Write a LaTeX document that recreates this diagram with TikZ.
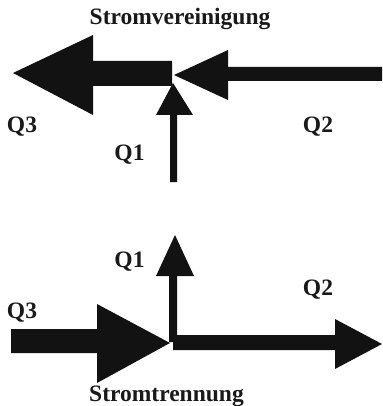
\documentclass[tikz,border=0pt]{standalone}
\usepackage{fontspec}
\setmainfont{Liberation Serif}
\begin{document}
\begin{tikzpicture}[x=1pt,y=-1pt,
  flow/.style={fill=black!93,draw=none},
  lbl/.style={font=\bfseries\fontsize{23.5}{26}\selectfont,text=black!90,inner sep=0pt,anchor=base}]
\useasboundingbox (0,0) rectangle (382,406);
% --- Stromvereinigung (merging) ---
% outgoing Q3 to the left
\fill[flow] (13,73) -- (93,35) -- (93,61) -- (172,61) -- (172,86) -- (93,86) -- (93,115) -- cycle;
% incoming Q2 from the right
\fill[flow] (174,75) -- (228,50) -- (228,67) -- (382,67) -- (382,81) -- (228,81) -- (228,100) -- cycle;
% incoming Q1 from below
\fill[flow] (173,83) -- (193,115) -- (177,115) -- (177,182) -- (170,182) -- (170,115) -- (156,115) -- cycle;
\node[lbl] (t1) at (180,25) {Stromvereinigung};
\node[lbl] (a3) at (22,133) {Q3};
\node[lbl] (a2) at (318,132) {Q2};
\node[lbl] (a1) at (129.5,160) {Q1};
% --- Stromtrennung (splitting) ---
% incoming Q3 from the left
\fill[flow] (11,329) -- (97,329) -- (97,304) -- (170,343) -- (97,383) -- (97,353) -- (11,353) -- cycle;
% outgoing Q1 upwards
\fill[flow] (175,235) -- (194,276) -- (177,276) -- (177,342) -- (169,342) -- (169,276) -- (156,276) -- cycle;
% outgoing Q2 to the right
\fill[flow] (173,335) -- (335,335) -- (335,319) -- (382,344) -- (335,369) -- (335,350) -- (173,350) -- cycle;
\node[lbl] (t2) at (166.5,401) {Stromtrennung};
\node[lbl] (b1) at (129.5,267) {Q1};
\node[lbl] (b2) at (318,295) {Q2};
\node[lbl] (b3) at (22,318) {Q3};
\end{tikzpicture}
\end{document}
